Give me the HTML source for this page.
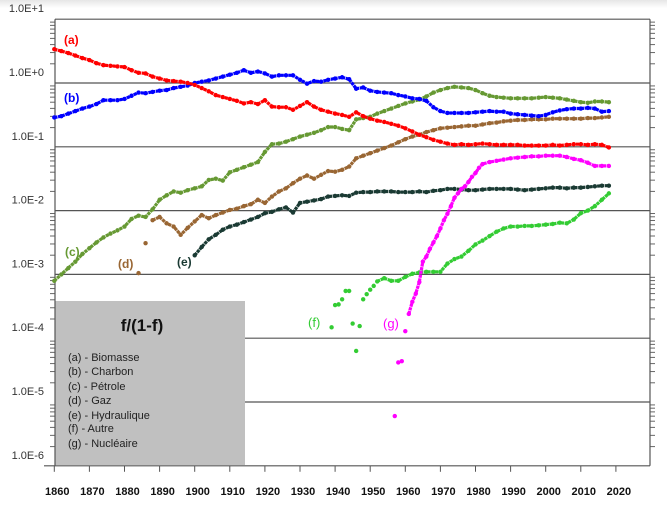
<!DOCTYPE html>
<html><head><meta charset="utf-8"><style>
html,body{margin:0;padding:0;background:#fff;}
svg{display:block;font-family:"Liberation Sans",sans-serif;}
</style></head><body>
<svg id="chart" width="667" height="508" viewBox="0 0 667 508">
<defs><linearGradient id="hdr" x1="0" y1="0" x2="0" y2="1"><stop offset="0" stop-color="#e6e6e6"/><stop offset="1" stop-color="#fff"/></linearGradient></defs>
<rect x="0" y="0" width="667" height="8" fill="url(#hdr)"/>
<g id="grid"></g>
<rect x="55" y="301" width="190" height="164" fill="#c0c0c0"/>
<g id="axes"></g>
<g id="series"></g>
<g font-family="'Liberation Sans',sans-serif">
<text x="142" y="331" font-size="17" font-weight="bold" text-anchor="middle" fill="#111">f/(1-f)</text>
<text x="68" y="361" font-size="11" fill="#222">(a) - Biomasse</text>
<text x="68" y="375" font-size="11" fill="#222">(b) - Charbon</text>
<text x="68" y="390" font-size="11" fill="#222">(c) - Pétrole</text>
<text x="68" y="404" font-size="11" fill="#222">(d) - Gaz</text>
<text x="68" y="419" font-size="11" fill="#222">(e) - Hydraulique</text>
<text x="68" y="432" font-size="11" fill="#222">(f) - Autre</text>
<text x="68" y="447" font-size="11" fill="#222">(g) - Nucléaire</text>
</g>
<g font-size="12" font-weight="bold">
<text x="64" y="44" fill="#ff0000">(a)</text>
<text x="64" y="102" fill="#0000ff">(b)</text>
<text x="65" y="256" fill="#669933">(c)</text>
<text x="118" y="268" fill="#996633">(d)</text>
<text x="177" y="266" fill="#1a3a33">(e)</text>
<text x="308" y="327" fill="#33cc33" font-weight="normal" font-size="13">(f)</text>
<text x="383" y="328" fill="#ff00ff" font-weight="normal" font-size="13">(g)</text>
</g>
</svg>
<script>
// log10 of f/(1-f); series a-e sampled every 2 years from start year
const yTickLabels = ["1.0E+1","1.0E+0","1.0E-1","1.0E-2","1.0E-3","1.0E-4","1.0E-5","1.0E-6"];
const yTickExponents = [1,0,-1,-2,-3,-4,-5,-6];
const xTickYears = [1860,1870,1880,1890,1900,1910,1920,1930,1940,1950,1960,1970,1980,1990,2000,2010,2020];
const biomasseStart = 1860;
const biomasseLog = [0.53,0.50,0.47,0.43,0.39,0.36,0.31,0.28,0.27,0.26,0.25,0.20,0.16,0.15,0.10,0.07,0.04,0.03,0.02,0.00,-0.03,-0.08,-0.13,-0.19,-0.22,-0.25,-0.28,-0.32,-0.30,-0.33,-0.27,-0.37,-0.38,-0.38,-0.42,-0.36,-0.30,-0.37,-0.42,-0.45,-0.48,-0.50,-0.53,-0.46,-0.52,-0.56,-0.59,-0.61,-0.64,-0.67,-0.71,-0.76,-0.81,-0.85,-0.89,-0.92,-0.95,-0.97,-0.96,-0.97,-0.96,-0.95,-0.96,-0.97,-0.97,-0.97,-0.97,-0.98,-0.98,-0.98,-0.98,-0.97,-0.98,-0.97,-0.96,-0.96,-0.97,-0.96,-0.97,-1.01];
const charbonStart = 1860;
const charbonLog = [-0.54,-0.52,-0.48,-0.44,-0.40,-0.37,-0.33,-0.27,-0.27,-0.27,-0.25,-0.20,-0.15,-0.16,-0.14,-0.12,-0.11,-0.08,-0.06,-0.04,0.00,0.02,0.04,0.07,0.10,0.13,0.16,0.20,0.16,0.18,0.15,0.10,0.12,0.12,0.12,0.05,-0.01,0.03,0.02,0.05,0.07,0.09,0.06,-0.09,-0.07,-0.12,-0.14,-0.15,-0.16,-0.19,-0.21,-0.24,-0.25,-0.28,-0.38,-0.44,-0.47,-0.47,-0.47,-0.47,-0.46,-0.45,-0.44,-0.45,-0.45,-0.48,-0.49,-0.50,-0.51,-0.52,-0.50,-0.46,-0.43,-0.41,-0.40,-0.40,-0.39,-0.40,-0.45,-0.44];
const petroleStart = 1860;
const petroleLog = [-3.1,-3.0,-2.9,-2.8,-2.68,-2.59,-2.5,-2.42,-2.36,-2.31,-2.25,-2.13,-2.08,-2.1,-1.98,-1.83,-1.76,-1.7,-1.72,-1.68,-1.65,-1.62,-1.52,-1.5,-1.53,-1.4,-1.36,-1.32,-1.28,-1.24,-1.08,-0.96,-0.95,-0.92,-0.88,-0.84,-0.81,-0.78,-0.74,-0.69,-0.69,-0.72,-0.74,-0.57,-0.55,-0.53,-0.48,-0.44,-0.40,-0.36,-0.32,-0.29,-0.26,-0.21,-0.15,-0.11,-0.08,-0.06,-0.07,-0.08,-0.11,-0.16,-0.2,-0.22,-0.23,-0.24,-0.24,-0.24,-0.24,-0.23,-0.22,-0.23,-0.24,-0.26,-0.28,-0.3,-0.31,-0.29,-0.29,-0.30];
const gazStart = 1884;
const gazLog = [-2.98,-2.51,-2.15,-2.1,-2.2,-2.25,-2.38,-2.27,-2.17,-2.07,-2.12,-2.07,-2.03,-1.99,-1.97,-1.93,-1.9,-1.83,-1.88,-1.78,-1.7,-1.65,-1.57,-1.5,-1.45,-1.5,-1.44,-1.38,-1.39,-1.36,-1.31,-1.18,-1.14,-1.1,-1.06,-1.02,-0.98,-0.93,-0.88,-0.84,-0.81,-0.77,-0.74,-0.71,-0.7,-0.69,-0.68,-0.67,-0.67,-0.65,-0.63,-0.62,-0.6,-0.59,-0.58,-0.58,-0.57,-0.57,-0.57,-0.56,-0.56,-0.56,-0.56,-0.56,-0.55,-0.55,-0.54,-0.53];
const hydroStart = 1900;
const hydroLog = [-2.7,-2.57,-2.45,-2.38,-2.3,-2.25,-2.22,-2.18,-2.14,-2.1,-2.04,-2.02,-1.98,-1.95,-2.03,-1.88,-1.86,-1.84,-1.82,-1.78,-1.77,-1.76,-1.77,-1.72,-1.71,-1.71,-1.7,-1.7,-1.7,-1.71,-1.71,-1.71,-1.7,-1.71,-1.69,-1.68,-1.66,-1.66,-1.67,-1.68,-1.68,-1.67,-1.66,-1.66,-1.66,-1.66,-1.67,-1.68,-1.67,-1.66,-1.65,-1.64,-1.64,-1.65,-1.64,-1.64,-1.63,-1.62,-1.61,-1.61];
const autreYears = [1939,1940,1941,1942,1943,1944,1945,1946,1947,1948,1949,1950,1951,1952,1954,1956,1958,1960,1962,1964,1966,1968,1970,1972,1974,1976,1978,1980,1982,1984,1986,1988,1990,1992,1994,1996,1998,2000,2002,2004,2006,2008,2010,2012,2014,2016,2018];
const autreLog = [-3.83,-3.48,-3.47,-3.39,-3.26,-3.26,-3.77,-4.2,-3.81,-3.39,-3.31,-3.24,-3.18,-3.11,-3.06,-3.1,-3.1,-3.04,-2.99,-2.97,-2.96,-2.96,-2.96,-2.83,-2.76,-2.72,-2.63,-2.53,-2.47,-2.4,-2.33,-2.28,-2.25,-2.25,-2.24,-2.24,-2.23,-2.22,-2.21,-2.19,-2.2,-2.14,-2.04,-2.0,-1.93,-1.83,-1.73];
const nucleaireYears = [1957,1958,1959,1960,1961,1962,1963,1964,1965,1966,1967,1968,1969,1970,1971,1972,1973,1974,1975,1976,1977,1978,1979,1980,1981,1982,1984,1986,1988,1990,1992,1994,1996,1998,2000,2002,2004,2006,2008,2010,2012,2014,2016,2018];
const nucleaireLog = [-5.22,-4.38,-4.36,-3.89,-3.62,-3.43,-3.3,-3.12,-2.8,-2.72,-2.6,-2.5,-2.4,-2.28,-2.15,-2.05,-1.93,-1.8,-1.73,-1.66,-1.62,-1.55,-1.47,-1.41,-1.33,-1.27,-1.24,-1.22,-1.2,-1.18,-1.17,-1.16,-1.15,-1.15,-1.14,-1.14,-1.14,-1.16,-1.19,-1.21,-1.25,-1.3,-1.3,-1.3];

const NS = "http://www.w3.org/2000/svg";
const X0 = 54.3, PX_PER_YEAR = 3.51, Y0 = 83, PX_PER_DECADE = 63.8;
const PLOT_L = 55, PLOT_R = 650, PLOT_T = 19.2, PLOT_B = 465.8;
function xScale(year){ return X0 + (year - 1860) * PX_PER_YEAR; }
function yScale(logv){ return Y0 - logv * PX_PER_DECADE; }
function mk(tag, attrs, parent){ const e = document.createElementNS(NS, tag); for (const k in attrs) e.setAttribute(k, attrs[k]); parent.appendChild(e); return e; }

const grid = document.getElementById('grid');
const axes = document.getElementById('axes');
const series = document.getElementById('series');

yTickExponents.forEach((ex, i) => {
  const y = yScale(ex);
  if (ex > -6) {
    const ln = mk('line', {x1: PLOT_L, x2: PLOT_R, y1: y, y2: y, stroke: '#555', 'stroke-width': 1.2}, grid);
    
    
  }
  const t = mk('text', {x: 44, y: y - 7, 'font-size': 11, 'text-anchor': 'end', fill: '#333'}, axes);
  t.textContent = yTickLabels[i];
  
  
  if (ex > -6) {
    for (let m = 2; m <= 9; m++) {
      const ym = yScale(ex - 1 + Math.log10(m));
      const tk = mk('line', {x1: PLOT_L - 5, x2: PLOT_L, y1: ym, y2: ym, stroke: '#666', 'stroke-width': 1}, axes);
      
      
      const tr = mk('line', {x1: PLOT_R, x2: PLOT_R + 5, y1: ym, y2: ym, stroke: '#666', 'stroke-width': 1}, axes);
      
      
    }
  }
});
const la = mk('line', {x1: PLOT_L, x2: PLOT_L, y1: PLOT_T, y2: PLOT_B, stroke: '#555', 'stroke-width': 1.2}, axes);


const ra = mk('line', {x1: PLOT_R, x2: PLOT_R, y1: PLOT_T, y2: PLOT_B, stroke: '#555', 'stroke-width': 1.2}, axes);


const ba = mk('line', {x1: 44, x2: PLOT_R, y1: PLOT_B, y2: PLOT_B, stroke: '#555', 'stroke-width': 1.2}, axes);


xTickYears.forEach(yr => {
  const x = xScale(yr);
  const tk = mk('line', {x1: x, x2: x, y1: PLOT_B, y2: PLOT_B + 6, stroke: '#555', 'stroke-width': 1}, axes);
  
  
  const t = mk('text', {x: x + 3, y: 495, 'font-size': 11, 'font-weight': 'bold', 'text-anchor': 'middle', fill: '#111'}, axes);
  t.textContent = yr;
  
  
});

function drawSeries(name, years, vals, color, lineFrom){
  const g = mk('g', {fill: color}, series);
  
  
  const pts = [];
  vals.forEach((v, i) => { if (i >= lineFrom) pts.push(xScale(years[i]).toFixed(1) + ',' + yScale(v).toFixed(1)); });
  if (pts.length > 1) {
    const pl = mk('polyline', {points: pts.join(' '), fill: 'none', stroke: color, 'stroke-width': 3.2, 'stroke-linejoin': 'round', 'stroke-dasharray': '3.2 0.6'}, g);
    
    
  }
  vals.forEach((v, i) => {
    const c = mk('circle', {cx: xScale(years[i]), cy: yScale(v), r: 2.2}, g);
    
    
  });
}
function stepYears(start, n){ const a = []; for (let i = 0; i < n; i++) a.push(start + 2 * i); return a; }
drawSeries('petrole', stepYears(petroleStart, petroleLog.length), petroleLog, '#669933', 0);
drawSeries('gaz', stepYears(gazStart, gazLog.length), gazLog, '#996633', 2);
drawSeries('hydraulique', stepYears(hydroStart, hydroLog.length), hydroLog, '#1a3a33', 0);
drawSeries('autre', autreYears, autreLog, '#33cc33', 13);
drawSeries('nucleaire', nucleaireYears, nucleaireLog, '#ff00ff', 4);
drawSeries('charbon', stepYears(charbonStart, charbonLog.length), charbonLog, '#0000ff', 0);
drawSeries('biomasse', stepYears(biomasseStart, biomasseLog.length), biomasseLog, '#ff0000', 0);
</script>
</body></html>
